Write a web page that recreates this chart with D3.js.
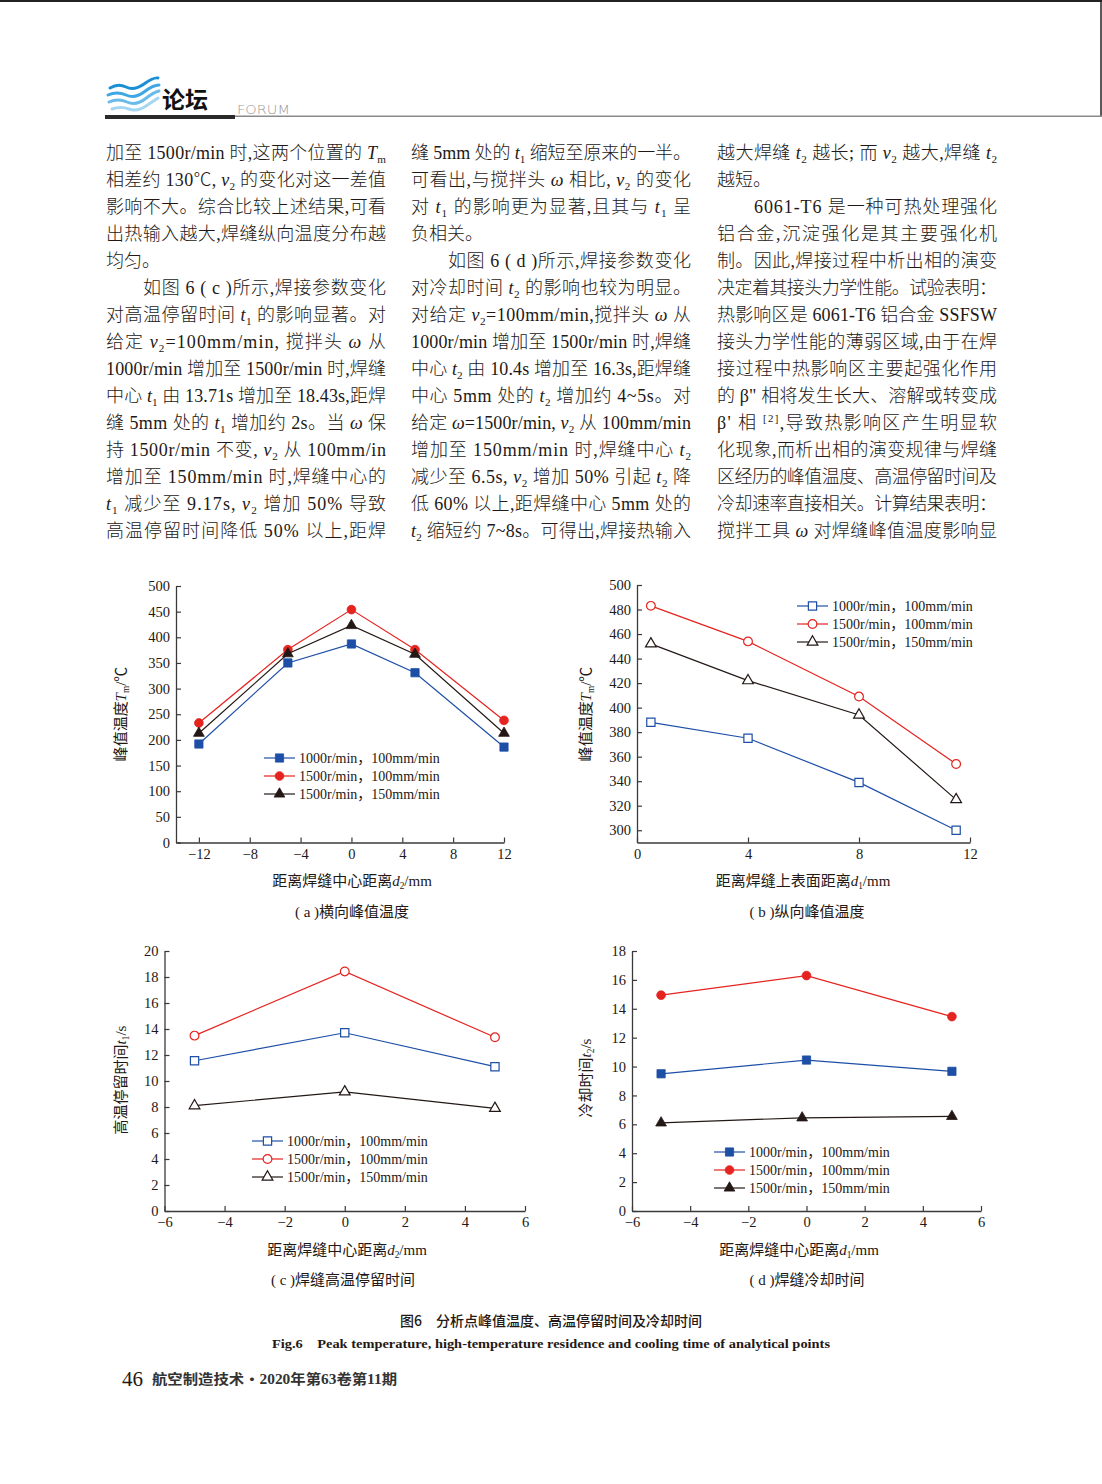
<!DOCTYPE html>
<html><head><meta charset="utf-8">
<script src="https://cdn.jsdelivr.net/npm/d3@7"></script>
<style>
html,body{margin:0;padding:0;background:#fff;}
svg{display:block;}
</style></head><body>
<svg id="page" width="1102" height="1484"></svg>
<script>
// ---------------- DATA ----------------
const seriesNames = ["1000r/min，100mm/min", "1500r/min，100mm/min", "1500r/min，150mm/min"];
const seriesColors = ["#1d4fa6", "#e5231f", "#231815"];
const seriesShapes = ["square", "circle", "triangle"];

// (a) transverse peak temperature
const aX = [-12, -5, 0, 5, 12];
const aBlue = [192, 350, 387, 331, 186];
const aRed = [233, 376, 454, 376, 238];
const aBlack = [213, 368, 423, 367, 213];
const aXTicks = [-12, -8, -4, 0, 4, 8, 12];
const aYTicks = [0, 50, 100, 150, 200, 250, 300, 350, 400, 450, 500];

// (b) longitudinal peak temperature
const bX = [0.5, 4, 8, 11.5];
const bBlue = [388, 375, 339, 300];
const bRed = [483, 454, 409, 354];
const bBlack = [452, 422, 394, 325];
const bXTicks = [0, 4, 8, 12];
const bYTicks = [300, 320, 340, 360, 380, 400, 420, 440, 460, 480, 500];

// (c) high-temperature residence time
const cX = [-5, 0, 5];
const cBlue = [11.56, 13.71, 11.1];
const cRed = [13.49, 18.43, 13.36];
const cBlack = [8.1, 9.17, 7.9];
const cXTicks = [-6, -4, -2, 0, 2, 4, 6];
const cYTicks = [0, 2, 4, 6, 8, 10, 12, 14, 16, 18, 20];

// (d) cooling time
const dX = [-5, 0, 5];
const dXBlack = [-5, -0.15, 5];
const dBlue = [9.5, 10.45, 9.67];
const dRed = [14.94, 16.3, 13.46];
const dBlack = [6.1, 6.45, 6.55];
const dXTicks = [-6, -4, -2, 0, 2, 4, 6];
const dYTicks = [0, 2, 4, 6, 8, 10, 12, 14, 16, 18];

// text
const col1 = [
  "加至 1500r/min 时,这两个位置的 *T*_{m}",
  "相差约 130℃, *v*_{2} 的变化对这一差值",
  "影响不大。综合比较上述结果,可看",
  "出热输入越大,焊缝纵向温度分布越",
  "均匀。",
  "　　如图 6 ( c )所示,焊接参数变化",
  "对高温停留时间 *t*_{1} 的影响显著。对",
  "给定 *v*_{2}=100mm/min, 搅拌头 *ω* 从",
  "1000r/min 增加至 1500r/min 时,焊缝",
  "中心 *t*_{1} 由 13.71s 增加至 18.43s,距焊",
  "缝 5mm 处的 *t*_{1} 增加约 2s。当 *ω* 保",
  "持 1500r/min 不变, *v*_{2} 从 100mm/in",
  "增加至 150mm/min 时,焊缝中心的",
  "*t*_{1} 减少至 9.17s, *v*_{2} 增加 50% 导致",
  "高温停留时间降低 50% 以上,距焊"
];
const col2 = [
  "缝 5mm 处的 *t*_{1} 缩短至原来的一半。",
  "可看出,与搅拌头 *ω* 相比, *v*_{2} 的变化",
  "对 *t*_{1} 的影响更为显著,且其与 *t*_{1} 呈",
  "负相关。",
  "　　如图 6 ( d )所示,焊接参数变化",
  "对冷却时间 *t*_{2} 的影响也较为明显。",
  "对给定 *v*_{2}=100mm/min,搅拌头 *ω* 从",
  "1000r/min 增加至 1500r/min 时,焊缝",
  "中心 *t*_{2} 由 10.4s 增加至 16.3s,距焊缝",
  "中心 5mm 处的 *t*_{2} 增加约 4~5s。对",
  "给定 *ω*=1500r/min, *v*_{2} 从 100mm/min",
  "增加至 150mm/min 时,焊缝中心 *t*_{2}",
  "减少至 6.5s, *v*_{2} 增加 50% 引起 *t*_{2} 降",
  "低 60% 以上,距焊缝中心 5mm 处的",
  "*t*_{2} 缩短约 7~8s。可得出,焊接热输入"
];
const col3 = [
  "越大焊缝 *t*_{2} 越长; 而 *v*_{2} 越大,焊缝 *t*_{2}",
  "越短。",
  "　　6061-T6 是一种可热处理强化",
  "铝合金,沉淀强化是其主要强化机",
  "制。因此,焊接过程中析出相的演变",
  "决定着其接头力学性能。试验表明：",
  "热影响区是 6061-T6 铝合金 SSFSW",
  "接头力学性能的薄弱区域,由于在焊",
  "接过程中热影响区主要起强化作用",
  "的 β\" 相将发生长大、溶解或转变成",
  "β' 相 ^{[2]},导致热影响区产生明显软",
  "化现象,而析出相的演变规律与焊缝",
  "区经历的峰值温度、高温停留时间及",
  "冷却速率直接相关。计算结果表明：",
  "搅拌工具 *ω* 对焊缝峰值温度影响显"
];
const figTitleCN = "图6　分析点峰值温度、高温停留时间及冷却时间";
const figTitleEN = "Fig.6    Peak temperature, high-temperature residence and cooling time of analytical points";
const pageNo = "46";
const journal = "航空制造技术・2020年第63卷第11期";

// ---------------- RENDER ----------------
const svg = d3.select("#page");
const FONT = "'Liberation Serif','Noto Sans CJK SC',serif";
const INK = "#231815";

function rich(sel, str, fs) {
  const parts = str.split(/(\*[^*]+\*|_\{[^}]*\}|\^\{[^}]*\})/).filter(s => s.length);
  let pending = 0;
  parts.forEach(p => {
    if (p.startsWith("_{")) {
      sel.append("tspan").text(p.slice(2, -1)).attr("font-size", fs * 0.62).attr("dy", fs * 0.2 + pending);
      pending = -fs * 0.2; return;
    }
    if (p.startsWith("^{")) {
      sel.append("tspan").text(p.slice(2, -1)).attr("font-size", fs * 0.6).attr("dy", -fs * 0.4 + pending);
      pending = fs * 0.4; return;
    }
    let t;
    if (p.length > 2 && p[0] === "*" && p[p.length - 1] === "*") {
      t = sel.append("tspan").text(p.slice(1, -1)).attr("font-style", "italic");
    } else {
      t = sel.append("tspan").text(p);
    }
    if (pending) { t.attr("dy", pending); pending = 0; }
  });
}

// top border
svg.append("line").attr("x1", 0).attr("x2", 1102).attr("y1", 1).attr("y2", 1).attr("stroke", "#222").attr("stroke-width", 2);
svg.append("line").attr("x1", 1101).attr("x2", 1101).attr("y1", 0).attr("y2", 117).attr("stroke", "#222").attr("stroke-width", 1.5);

// header logo
const logo = svg.append("g");
const waves = [
  {d: "M110,88 q8,-5 16,-1 t18,-3 t14,-6", c: "#1a8fd6", w: 3},
  {d: "M108,95 q9,-4 18,0 t18,-3 t15,-7", c: "#3fa7e3", w: 3},
  {d: "M109,102 q9,-4 18,0 t18,-3 t14,-8", c: "#6bbbea", w: 3},
  {d: "M112,109 q9,-3 17,0 t17,-3 t12,-8", c: "#a5d6f2", w: 3}
];
waves.forEach(w => logo.append("path").attr("d", w.d).attr("fill", "none").attr("stroke", w.c).attr("stroke-width", w.w).attr("stroke-linecap", "round"));
svg.append("text").attr("x", 162).attr("y", 108).attr("font-family", "'Noto Sans CJK SC'").attr("font-weight", 700)
  .attr("font-size", 23).attr("fill", "#111").text("论坛");
svg.append("text").attr("x", 237).attr("y", 114).attr("font-family", "'DejaVu Sans', sans-serif").attr("font-weight", 300)
  .attr("font-size", 12).attr("fill", "#999").attr("textLength", 53).attr("lengthAdjust", "spacingAndGlyphs").text("FORUM");
svg.append("rect").attr("x", 105).attr("y", 115).attr("width", 130).attr("height", 4).attr("fill", "#2a2a2a");
svg.append("rect").attr("x", 235).attr("y", 115.5).attr("width", 867).attr("height", 1.5).attr("fill", "#8a8a8a");

// body text
const colX = [106, 411, 717];
const colW = 280;
const FS = 18;
[col1, col2, col3].forEach((lines, ci) => {
  lines.forEach((ln, li) => {
    let x = colX[ci], w = colW, s = ln;
    if (s.startsWith("　　")) { s = s.slice(2); x += 37; w -= 37; }
    const t = svg.append("text").attr("x", x).attr("y", 159 + li * 27)
      .attr("font-family", FONT).attr("font-size", FS).attr("font-weight", 300).attr("fill", "#231815");
    rich(t, s, FS);
    const L = t.node().getComputedTextLength();
    if (L > w * 0.7) t.attr("textLength", w).attr("lengthAdjust", "spacing");
  });
});

// charts
function drawChart(c) {
  const g = svg.append("g");
  const x = d3.scaleLinear().domain(c.xDom).range(c.xRange);
  const y = d3.scaleLinear().domain(c.yDom).range(c.yRange);
  const xa = g.append("g").attr("transform", `translate(0,${c.yRange[0]})`)
    .call(d3.axisBottom(x).tickValues(c.xTicks).tickSizeInner(-5).tickSizeOuter(0).tickPadding(6).tickFormat(d3.format("d")));
  const ya = g.append("g").attr("transform", `translate(${c.xRange[0]},0)`)
    .call(d3.axisLeft(y).tickValues(c.yTicks).tickSizeInner(-5).tickSizeOuter(0).tickPadding(6).tickFormat(d3.format("d")));
  [xa, ya].forEach(a => {
    a.select(".domain").attr("stroke", "#3a3a3a").attr("stroke-width", 1.3);
    a.selectAll(".tick line").attr("stroke", "#3a3a3a").attr("stroke-width", 1.2);
    a.selectAll(".tick text").attr("font-family", FONT).attr("font-size", 14.5).attr("fill", INK);
  });
  const sym = {square: d3.symbolSquare, circle: d3.symbolCircle, triangle: d3.symbolTriangle};
  const sz = {square: 68, circle: 60, triangle: 50};
  const line = d3.line().x(d => x(d[0])).y(d => y(d[1]));
  c.series.forEach((s, i) => {
    const pts = s.xs.map((v, k) => [v, s.ys[k]]);
    g.append("path").attr("d", line(pts)).attr("fill", "none").attr("stroke", seriesColors[i]).attr("stroke-width", 1.2);
    g.selectAll(null).data(pts).enter().append("path")
      .attr("transform", d => `translate(${x(d[0])},${y(d[1])})`)
      .attr("d", d3.symbol().type(sym[seriesShapes[i]]).size(sz[seriesShapes[i]]))
      .attr("fill", c.open ? "#fff" : seriesColors[i])
      .attr("stroke", seriesColors[i]).attr("stroke-width", c.open ? 1.2 : 0.8);
  });
  // legend
  seriesNames.forEach((nm, i) => {
    const ly = c.legY + i * c.legDy;
    g.append("line").attr("x1", c.legX).attr("x2", c.legX + 31).attr("y1", ly).attr("y2", ly)
      .attr("stroke", seriesColors[i]).attr("stroke-width", 1.2);
    g.append("path").attr("transform", `translate(${c.legX + 15.5},${ly})`)
      .attr("d", d3.symbol().type(sym[seriesShapes[i]]).size(sz[seriesShapes[i]])())
      .attr("fill", c.open ? "#fff" : seriesColors[i]).attr("stroke", seriesColors[i]).attr("stroke-width", c.open ? 1.2 : 0.8);
    g.append("text").attr("x", c.legX + 35).attr("y", ly).attr("dy", "0.35em")
      .attr("font-family", FONT).attr("font-size", 14).attr("fill", INK).text(nm);
  });
  // y label
  const yl = g.append("text").attr("transform", `translate(${c.yLab[0]},${c.yLab[1]}) rotate(-90)`)
    .attr("text-anchor", "middle").attr("dy", "0.35em").attr("font-family", FONT).attr("font-size", 15).attr("fill", INK);
  rich(yl, c.yLabel, 15);
  const xl = g.append("text").attr("x", c.xLab[0]).attr("y", c.xLab[1]).attr("dy", "0.35em")
    .attr("text-anchor", "middle").attr("font-family", FONT).attr("font-size", 15).attr("fill", INK);
  rich(xl, c.xLabel, 15);
  g.append("text").attr("x", c.cap[0]).attr("y", c.cap[1]).attr("dy", "0.35em")
    .attr("text-anchor", "middle").attr("font-family", FONT).attr("font-size", 15).attr("fill", INK).text(c.caption);
}

drawChart({
  xDom: [-13.8, 12], xRange: [176, 504], yDom: [0, 500], yRange: [842.5, 586],
  xTicks: aXTicks, yTicks: aYTicks, open: false,
  series: [{xs: aX, ys: aBlue}, {xs: aX, ys: aRed}, {xs: aX, ys: aBlack}],
  legX: 264, legY: 758, legDy: 18,
  yLab: [121, 714], yLabel: "峰值温度*T*_{m}/℃",
  xLab: [352, 881], xLabel: "距离焊缝中心距离*d*_{2}/mm",
  cap: [352, 912], caption: "( a )横向峰值温度"
});
drawChart({
  xDom: [0, 12], xRange: [637, 970], yDom: [290, 500], yRange: [842.5, 585],
  xTicks: bXTicks, yTicks: bYTicks, open: true,
  series: [{xs: bX, ys: bBlue}, {xs: bX, ys: bRed}, {xs: bX, ys: bBlack}],
  legX: 797, legY: 606, legDy: 18,
  yLab: [586, 714], yLabel: "峰值温度*T*_{m}/℃",
  xLab: [803, 881], xLabel: "距离焊缝上表面距离*d*_{1}/mm",
  cap: [807, 912], caption: "( b )纵向峰值温度"
});
drawChart({
  xDom: [-6, 6], xRange: [164.5, 525], yDom: [0, 20], yRange: [1211, 951],
  xTicks: cXTicks, yTicks: cYTicks, open: true,
  series: [{xs: cX, ys: cBlue}, {xs: cX, ys: cRed}, {xs: cX, ys: cBlack}],
  legX: 252, legY: 1141, legDy: 18,
  yLab: [121, 1080], yLabel: "高温停留时间*t*_{1}/s",
  xLab: [347, 1250], xLabel: "距离焊缝中心距离*d*_{2}/mm",
  cap: [343, 1280], caption: "( c )焊缝高温停留时间"
});
drawChart({
  xDom: [-6, 6], xRange: [632, 981], yDom: [0, 18], yRange: [1211, 951],
  xTicks: dXTicks, yTicks: dYTicks, open: false,
  series: [{xs: dX, ys: dBlue}, {xs: dX, ys: dRed}, {xs: dXBlack, ys: dBlack}],
  legX: 714, legY: 1152, legDy: 18,
  yLab: [586, 1078], yLabel: "冷却时间*t*_{2}/s",
  xLab: [799, 1250], xLabel: "距离焊缝中心距离*d*_{1}/mm",
  cap: [807, 1280], caption: "( d )焊缝冷却时间"
});

// figure caption
svg.append("text").attr("x", 551).attr("y", 1321).attr("dy", "0.35em").attr("text-anchor", "middle")
  .attr("font-family", "'Noto Sans CJK SC',sans-serif").attr("font-weight", 500).attr("font-size", 14).attr("fill", INK).text(figTitleCN);
svg.append("text").attr("x", 272).attr("y", 1343).attr("dy", "0.35em")
  .attr("font-family", "'Liberation Serif',serif").attr("font-weight", 700).attr("font-size", 13.5).attr("fill", INK)
  .attr("textLength", 558).attr("lengthAdjust", "spacingAndGlyphs").style("white-space", "pre").text(figTitleEN);

// footer
svg.append("text").attr("x", 122).attr("y", 1386).attr("font-family", "'Liberation Serif',serif")
  .attr("font-size", 21).attr("fill", INK).text(pageNo);
svg.append("text").attr("x", 152).attr("y", 1384).attr("font-family", FONT).attr("font-weight", 700)
  .attr("font-size", 14).attr("fill", "#333").attr("textLength", 245).attr("lengthAdjust", "spacingAndGlyphs").text(journal);
</script>
</body></html>
